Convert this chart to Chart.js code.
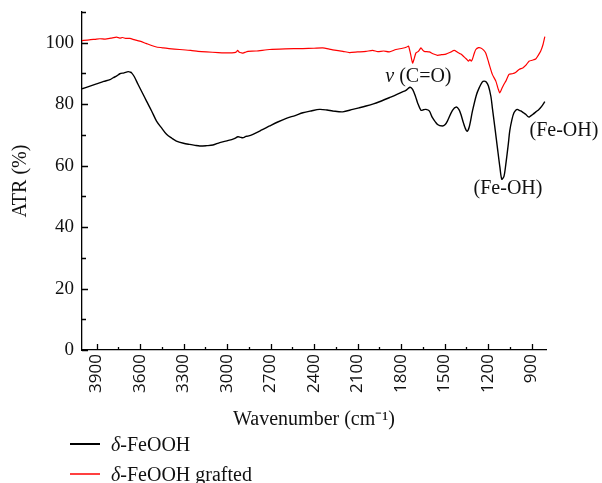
<!DOCTYPE html>
<html>
<head>
<meta charset="utf-8">
<script src="https://cdn.jsdelivr.net/npm/chart.js@4.4.1/dist/chart.umd.min.js"></script>
<style>
  body { margin: 0; background: #fff; }
  #wrap { position: relative; width: 602px; height: 483px; }
  .legend { position: absolute; left: 70px; top: 429px; font: 20px 'Liberation Serif', serif; color: #111; }
  .legend .item { height: 30px; line-height: 26px; display: flex; align-items: center; }
  .legend .swatch { display: inline-block; width: 30px; height: 1.5px; margin-right: 11px; }
</style>
</head>
<body>
<div id="wrap">
  <canvas id="ftirChart" width="602" height="483"></canvas>
  <div class="legend">
    <div class="item"><span class="swatch" style="background:#000"></span><span><i>δ</i>-FeOOH</span></div>
    <div class="item"><span class="swatch" style="background:#ff4040"></span><span><i>δ</i>-FeOOH grafted</span></div>
  </div>
</div>
<script>
// Widma ATR: oś X to liczba falowa (cm-1), malejąco
const xTickLabels = [3900, 3600, 3300, 3000, 2700, 2400, 2100, 1800, 1500, 1200, 900];
const yTickLabels = [0, 20, 40, 60, 80, 100];

const feoohWavenumber = [4000, 3950, 3900, 3850, 3807, 3785, 3760, 3739, 3710, 3681, 3665, 3658, 3640, 3613, 3585,
  3555, 3520, 3486, 3450, 3417, 3380, 3349, 3300, 3257, 3220, 3188, 3140, 3097, 3050, 2990, 2950, 2924, 2905, 2890,
  2870, 2856, 2821, 2760, 2706, 2650, 2591, 2530, 2477, 2420, 2362, 2310, 2271, 2202, 2133, 2090, 2041, 1990, 1949,
  1881, 1835, 1790, 1766, 1738, 1720, 1700, 1686, 1662, 1645, 1628, 1605, 1583, 1548, 1514, 1495, 1480, 1445, 1418,
  1400, 1387, 1370, 1358, 1345, 1330, 1307, 1280, 1261, 1240, 1227, 1212, 1197, 1180, 1170, 1150, 1135, 1118, 1105,
  1090, 1077, 1060, 1050, 1035, 1021, 1005, 998, 985, 974, 955, 940, 925, 917, 905, 890, 870, 849, 830, 808];
const feoohATR = [85.0, 85.8, 86.6, 87.4, 88.0, 88.6, 89.2, 89.9, 90.2, 90.6, 90.4, 90.2, 89.0, 86.4, 83.8,
  81.0, 77.8, 74.5, 72.2, 70.2, 68.9, 68.0, 67.3, 66.9, 66.6, 66.4, 66.5, 66.7, 67.5, 68.2, 68.8, 69.4, 69.2, 69.1,
  69.5, 69.6, 70.2, 71.6, 72.9, 74.2, 75.4, 76.3, 77.2, 77.8, 78.3, 78.1, 77.8, 77.5, 78.3, 78.8, 79.4, 80.1, 80.8,
  82.1, 83.0, 84.0, 84.5, 85.5, 84.8, 82.5, 80.5, 78.0, 78.2, 78.3, 77.8, 75.6, 73.4, 72.9, 73.4, 74.5, 78.0, 79.1,
  78.2, 76.7, 74.0, 72.3, 71.2, 72.5, 77.8, 83.0, 85.3, 87.2, 87.5, 87.2, 85.9, 82.5, 78.8, 71.5, 65.8, 59.5, 55.6,
  56.5, 60.5, 67.0, 71.3, 75.0, 77.2, 78.2, 78.3, 78.0, 77.8, 77.2, 76.7, 76.0, 75.8, 76.2, 76.7, 77.5, 78.3, 79.3, 80.8];

const graftedWavenumber = [4000, 3950, 3900, 3876, 3840, 3800, 3761, 3740, 3720, 3700, 3670, 3640, 3601, 3560, 3520,
  3486, 3440, 3400, 3326, 3250, 3200, 3142, 3060, 2982, 2950, 2936, 2927, 2915, 2900, 2890, 2870, 2856, 2800, 2706,
  2600, 2477, 2400, 2340, 2300, 2271, 2200, 2156, 2100, 2041, 1996, 1960, 1920, 1881, 1835, 1790, 1760, 1748, 1735,
  1720, 1708, 1697, 1680, 1662, 1650, 1640, 1605, 1580, 1548, 1520, 1490, 1460, 1433, 1410, 1387, 1365, 1349, 1335,
  1325, 1315, 1307, 1295, 1284, 1265, 1250, 1230, 1215, 1195, 1170, 1146, 1130, 1119, 1105, 1090, 1077, 1055, 1032,
  1010, 986, 960, 940, 917, 895, 871, 855, 837, 820, 808];
const graftedATR = [100.7, 100.9, 101.2, 101.3, 101.2, 101.5, 101.8, 101.5, 101.7, 101.4, 101.4, 101.0, 100.5, 99.8, 99.1,
  98.6, 98.3, 98.1, 97.8, 97.5, 97.2, 97.0, 96.8, 96.7, 96.8, 97.0, 97.5, 96.9, 96.7, 96.6, 97.0, 97.2, 97.3, 97.8,
  98.0, 98.1, 98.2, 98.3, 98.0, 97.7, 97.2, 96.8, 97.0, 97.2, 97.5, 97.1, 97.3, 97.0, 97.8, 98.2, 98.6, 98.9, 96.5,
  93.4, 95.0, 96.7, 97.2, 98.3, 97.6, 97.2, 97.0, 96.4, 95.9, 96.1, 96.3, 96.9, 97.5, 96.9, 96.3, 95.4, 94.7, 94.0,
  94.5, 94.0, 94.7, 96.5, 97.8, 98.4, 98.3, 97.6, 96.6, 93.5, 89.7, 87.5, 85.0, 83.7, 85.0, 86.5, 87.5, 89.7, 89.9,
  90.3, 91.3, 91.8, 92.6, 94.0, 94.3, 94.7, 95.8, 97.2, 99.5, 102.0];

// Podpisy pasm: [tekst kursywą, reszta tekstu, liczba falowa środka, wartość]
const bandLabels = [
  ['ν', ' (C=O)', 1680, 89.0],
  ['', '(Fe-OH)', 1062, 52.4],
  ['', '(Fe-OH)', 676, 71.3]
];

function toPoints(xs, ys) {
  return xs.map((w, i) => ({ x: w, y: ys[i] }));
}

// Znaczniki osi skierowane do środka wykresu (główne i pośrednie)
const insideTicks = {
  id: 'insideTicks',
  afterDraw(chart) {
    const { ctx, chartArea: a, scales: { x, y } } = chart;
    ctx.save();
    ctx.strokeStyle = '#000';
    ctx.lineWidth = 1.3;
    ctx.beginPath();
    xTickLabels.forEach(v => {
      const px = Math.round(x.getPixelForValue(v)) + 0.5;
      ctx.moveTo(px, a.bottom); ctx.lineTo(px, a.bottom - 6);
      const mx = Math.round(x.getPixelForValue(v - 150)) + 0.5;
      if (v - 150 >= x.min) { ctx.moveTo(mx, a.bottom); ctx.lineTo(mx, a.bottom - 3); }
    });
    yTickLabels.forEach(v => {
      const py = Math.round(y.getPixelForValue(v)) + 0.5;
      ctx.moveTo(a.left, py); ctx.lineTo(a.left + 6, py);
      const my = Math.round(y.getPixelForValue(v + 10)) + 0.5;
      ctx.moveTo(a.left, my); ctx.lineTo(a.left + 4, my);
    });
    ctx.stroke();
    ctx.restore();
  }
};

const bandText = {
  id: 'bandText',
  afterDraw(chart) {
    const { ctx, scales: { x, y } } = chart;
    ctx.save();
    ctx.fillStyle = '#111';
    ctx.textBaseline = 'middle';
    bandLabels.forEach(([it, rest, wn, val]) => {
      ctx.font = 'italic 20px "Liberation Serif"';
      const w1 = ctx.measureText(it).width;
      ctx.font = '20px "Liberation Serif"';
      const w2 = ctx.measureText(rest).width;
      const px = x.getPixelForValue(wn) - (w1 + w2) / 2;
      const py = y.getPixelForValue(val);
      ctx.font = 'italic 20px "Liberation Serif"';
      ctx.fillText(it, px, py);
      ctx.font = '20px "Liberation Serif"';
      ctx.fillText(rest, px + w1, py);
    });
    ctx.restore();
  }
};

Chart.defaults.font.family = '"Liberation Serif", serif';
Chart.defaults.color = '#111';

const ctx = document.getElementById('ftirChart').getContext('2d');
new Chart(ctx, {
  type: 'line',
  data: {
    datasets: [{
      label: 'δ-FeOOH',
      data: toPoints(feoohWavenumber, feoohATR),
      borderColor: '#000',
      borderWidth: 1.4,
      pointRadius: 0,
      tension: 0.3
    }, {
      label: 'δ-FeOOH grafted',
      data: toPoints(graftedWavenumber, graftedATR),
      borderColor: '#ff0000',
      borderWidth: 1.2,
      pointRadius: 0,
      tension: 0.2
    }]
  },
  options: {
    responsive: false,
    animation: false,
    devicePixelRatio: 1,
    layout: { padding: { top: 12, right: 56, bottom: 48, left: 0 } },
    plugins: {
      legend: { display: false },
      tooltip: { enabled: false }
    },
    scales: {
      x: {
        type: 'linear',
        reverse: true,
        min: 800,
        max: 4000,
        afterBuildTicks: s => { s.ticks = xTickLabels.map(v => ({ value: v })); },
        afterFit: s => { s.height = 85; s.paddingLeft = 0; s.paddingRight = 0; },
        grid: { display: false, drawTicks: false },
        border: { color: '#000', width: 1.3 },
        ticks: {
          minRotation: 90,
          maxRotation: 90,
          padding: 4,
          color: '#111',
          font: { family: '"Open Sans"', size: 17 },
          callback: v => String(v)
        },
        title: {
          display: true,
          text: 'Wavenumber (cm⁻¹)',
          color: '#111',
          font: { size: 20 },
          padding: { top: 0, bottom: 3 }
        }
      },
      y: {
        min: 0,
        max: 110,
        afterBuildTicks: s => { s.ticks = yTickLabels.map(v => ({ value: v })); },
        afterFit: s => { s.width = 82; s.paddingTop = 0; s.paddingBottom = 0; },
        grid: { display: false, drawTicks: false },
        border: { color: '#000', width: 1.3 },
        ticks: {
          padding: 8,
          color: '#111',
          font: { size: 19 }
        },
        title: {
          display: true,
          text: 'ATR (%)',
          color: '#111',
          font: { size: 20 },
          padding: { top: 9, bottom: 0 }
        }
      }
    }
  },
  plugins: [insideTicks, bandText]
});
</script>
</body>
</html>
